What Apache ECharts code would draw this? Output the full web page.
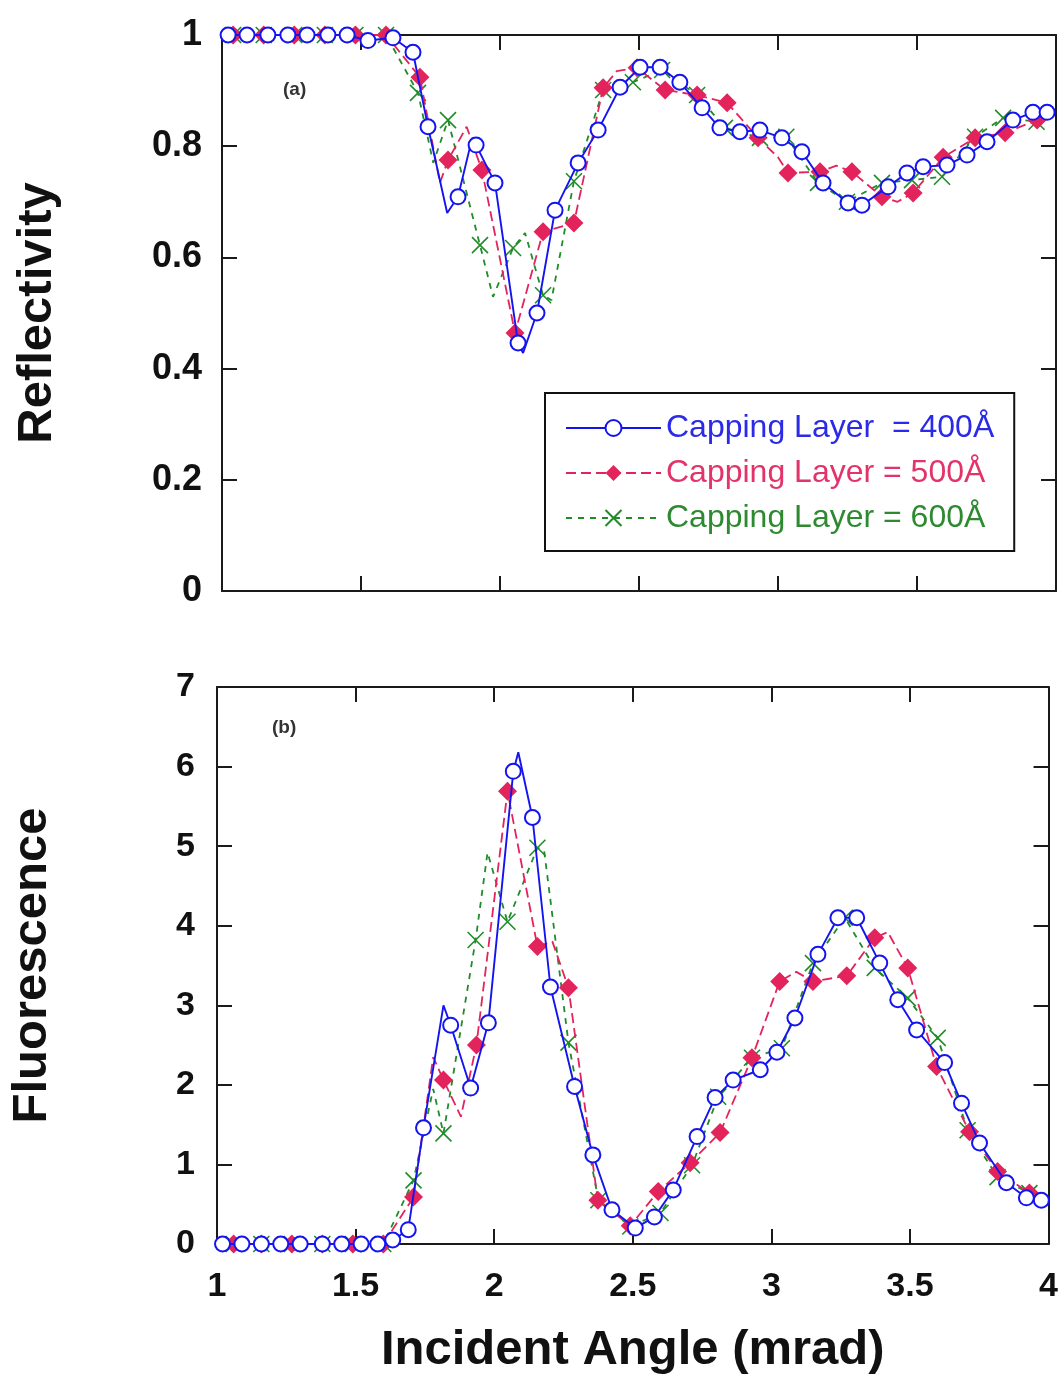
<!DOCTYPE html>
<html><head><meta charset="utf-8">
<script src="https://cdn.jsdelivr.net/npm/echarts@6/dist/echarts.min.js"></script>
<style>html,body{margin:0;padding:0;background:#fff}#c{width:1061px;height:1376px}</style>
</head><body><div id="c"></div>
<script>
const seriesNames = ['Capping Layer  = 400Å', 'Capping Layer = 500Å', 'Capping Layer = 600Å'];
const xTicks = [1, 1.5, 2, 2.5, 3, 3.5, 4];

// ---- (a) Reflectivity: marker points ----
const r400X = [1.022,1.09,1.165,1.237,1.306,1.381,1.45,1.525,1.615,1.687,1.741,1.849,1.914,1.982,2.065,2.133,2.198,2.281,2.353,2.432,2.504,2.576,2.647,2.727,2.791,2.863,2.935,3.014,3.086,3.162,3.252,3.302,3.396,3.464,3.522,3.608,3.68,3.752,3.845,3.917,3.968];
const r400Y = [1,1,1,1,1,1,1,0.99,0.995,0.969,0.835,0.709,0.802,0.734,0.446,0.50,0.685,0.77,0.829,0.906,0.942,0.942,0.915,0.869,0.833,0.826,0.829,0.815,0.790,0.734,0.698,0.694,0.727,0.752,0.763,0.766,0.784,0.808,0.847,0.861,0.861];
const r400LineX = [1.81, 1.90, 2.083];
const r400LineY = [0.68, 0.815, 0.428];

const r500X = [1.04,1.15,1.26,1.37,1.48,1.59,1.712,1.813,1.935,2.054,2.155,2.266,2.371,2.493,2.594,2.709,2.817,2.928,3.036,3.151,3.266,3.374,3.486,3.594,3.709,3.817,3.932];
const r500Y = [1,1,1,1,1,1,0.924,0.775,0.757,0.464,0.646,0.662,0.905,0.941,0.901,0.892,0.878,0.815,0.752,0.754,0.754,0.709,0.716,0.78,0.815,0.824,0.847];
const r500LineX = [1.784, 1.88, 2.42, 3.0, 3.21, 3.43];
const r500LineY = [0.734, 0.835, 0.935, 0.78, 0.765, 0.70];

const r600X = [1.04,1.15,1.26,1.37,1.48,1.59,1.705,1.813,1.928,2.047,2.155,2.266,2.371,2.478,2.583,2.709,2.809,2.935,3.03,3.144,3.248,3.374,3.482,3.59,3.709,3.81,3.93];
const r600Y = [1,1,1,1,1,1,0.896,0.847,0.622,0.617,0.532,0.737,0.901,0.915,0.937,0.892,0.833,0.815,0.817,0.734,0.70,0.734,0.739,0.745,0.817,0.851,0.844];
const r600LineX = [1.76, 1.975, 2.09, 2.185];
const r600LineY = [0.77, 0.529, 0.644, 0.523];

// ---- (b) Fluorescence: marker points ----
const f400X = [1.02,1.09,1.16,1.23,1.30,1.38,1.45,1.52,1.58,1.634,1.69,1.745,1.843,1.915,1.979,2.069,2.138,2.203,2.29,2.356,2.425,2.509,2.578,2.646,2.732,2.797,2.862,2.96,3.02,3.085,3.168,3.24,3.308,3.391,3.456,3.524,3.625,3.686,3.751,3.848,3.92,3.974];
const f400Y = [0,0,0,0,0,0,0,0,0,0.05,0.18,1.46,2.75,1.96,2.78,5.94,5.36,3.23,1.98,1.12,0.43,0.2,0.34,0.68,1.35,1.84,2.06,2.19,2.41,2.84,3.64,4.10,4.10,3.53,3.07,2.69,2.28,1.77,1.27,0.77,0.58,0.55];
const f400LineX = [1.817, 2.087];
const f400LineY = [3.0, 6.18];

const f500X = [1.06,1.16,1.27,1.38,1.49,1.60,1.709,1.817,1.936,2.048,2.156,2.268,2.374,2.491,2.592,2.707,2.815,2.93,3.03,3.15,3.272,3.373,3.492,3.596,3.715,3.816,3.931];
const f500Y = [0,0,0,0,0,0,0.59,2.06,2.5,5.69,3.74,3.22,0.55,0.23,0.66,1.02,1.40,2.34,3.30,3.30,3.37,3.85,3.47,2.23,1.41,0.91,0.64];
const f500LineX = [1.78, 1.88, 2.21, 3.09, 3.42];
const f500LineY = [2.35, 1.6, 3.8, 3.42, 3.92];

const f600X = [1.06,1.16,1.27,1.38,1.49,1.60,1.709,1.817,1.933,2.048,2.156,2.268,2.376,2.491,2.60,2.714,2.808,2.93,3.038,3.15,3.265,3.373,3.492,3.60,3.708,3.816,3.931];
const f600Y = [0,0,0,0,0,0,0.8,1.39,3.82,4.05,4.98,2.53,0.55,0.22,0.39,0.99,1.85,2.34,2.46,3.53,4.10,3.47,3.09,2.59,1.43,0.84,0.64];
const f600LineX = [1.78, 1.976, 2.18];
const f600LineY = [1.95, 4.92, 4.95];

function build(mx, my, lx, ly) {
  const pts = mx.map((x, i) => ({ value: [x, my[i]] }));
  lx.forEach((x, i) => pts.push({ value: [x, ly[i]], symbol: 'none' }));
  pts.sort((a, b) => a.value[0] - b.value[0]);
  return pts;
}

const BLUE = '#1414f0', RED = '#e3245c', GREEN = '#1f8c28';
const XPATH = 'path://M0,0L10,10M10,0L0,10';
const FONT = 'Liberation Sans';

function styleFor(k) {
  if (k === 0) return { color: BLUE, symbol: 'emptyCircle', symbolSize: 15,
    lineStyle: { width: 1.9, type: 'solid', color: BLUE }, itemStyle: { color: BLUE, borderWidth: 2 } };
  if (k === 1) return { color: RED, symbol: 'diamond', symbolSize: 19,
    lineStyle: { width: 1.8, type: [10, 5], color: RED }, itemStyle: { color: RED } };
  return { color: GREEN, symbol: XPATH, symbolSize: 16,
    lineStyle: { width: 1.8, type: [6, 6], color: GREEN }, itemStyle: { color: GREEN, borderColor: GREEN, borderWidth: 1.6 } };
}

const sets = [
  [[r400X, r400Y, r400LineX, r400LineY], [r500X, r500Y, r500LineX, r500LineY], [r600X, r600Y, r600LineX, r600LineY]],
  [[f400X, f400Y, f400LineX, f400LineY], [f500X, f500Y, f500LineX, f500LineY], [f600X, f600Y, f600LineX, f600LineY]]
];

const series = [];
[0, 1].forEach(g => {
  [2, 1, 0].forEach(k => {
    const d = sets[g][k];
    series.push(Object.assign({
      type: 'line', name: seriesNames[k], xAxisIndex: g * 2, yAxisIndex: g * 2,
      data: build(d[0], d[1], d[2], d[3]), clip: false, showAllSymbol: true, z: 3 + (2 - k)
    }, styleFor(k)));
  });
});

const axisLine = { show: true, onZero: false, lineStyle: { color: '#1a1a1a', width: 2 } };
const tick = { show: true, inside: true, length: 15, lineStyle: { color: '#1a1a1a', width: 2 } };
const lab = { fontFamily: FONT, fontWeight: 'bold', fontSize: 34, color: '#111' };
const nameStyle = { fontFamily: FONT, fontWeight: 'bold', fontSize: 49, color: '#111' };

function xAx(grid, pos, showLabel) {
  return { type: 'value', gridIndex: grid, position: pos, min: 1, max: 4, interval: 0.5,
    axisLine, axisTick: tick, splitLine: { show: false },
    axisLabel: showLabel ? Object.assign({ margin: 26 }, lab) : { show: false } };
}

const option = {
  animation: false,
  backgroundColor: '#fff',
  grid: [
    { left: 222, top: 35, width: 834, height: 556 },
    { left: 216, top: 687, width: 833, height: 557 }
  ],
  xAxis: [
    xAx(0, 'bottom', false), xAx(0, 'top', false),
    Object.assign(xAx(1, 'bottom', true), { name: 'Incident Angle (mrad)', nameLocation: 'middle', nameGap: 82,
      nameTextStyle: nameStyle }),
    xAx(1, 'top', false)
  ],
  yAxis: [
    { type: 'value', gridIndex: 0, position: 'left', min: 0, max: 1, interval: 0.2,
      axisLine, axisTick: tick, splitLine: { show: false },
      axisLabel: Object.assign({}, lab, { margin: 20, fontSize: 36 }),
      name: 'Reflectivity', nameLocation: 'middle', nameRotate: 90, nameGap: 160,
      nameTextStyle: nameStyle },
    { type: 'value', gridIndex: 0, position: 'right', min: 0, max: 1, interval: 0.2,
      axisLine, axisTick: tick, splitLine: { show: false }, axisLabel: { show: false } },
    { type: 'value', gridIndex: 1, position: 'left', min: 0, max: 7, interval: 1,
      axisLine, axisTick: tick, splitLine: { show: false },
      axisLabel: Object.assign({ margin: 22 }, lab),
      name: 'Fluorescence', nameLocation: 'middle', nameRotate: 90, nameGap: 160,
      nameTextStyle: nameStyle },
    { type: 'value', gridIndex: 1, position: 'right', min: 0, max: 7, interval: 1,
      axisLine, axisTick: tick, splitLine: { show: false }, axisLabel: { show: false } }
  ],
  legend: {
    left: 545, top: 393, orient: 'vertical',
    borderColor: '#111', borderWidth: 2, padding: [19, 20, 17, 20],
    itemGap: 13, itemWidth: 95, itemHeight: 20,
    textStyle: { fontFamily: FONT, fontSize: 32, lineHeight: 32 },
    data: [
      { name: seriesNames[0], textStyle: { color: '#2a2ae8' } },
      { name: seriesNames[1], textStyle: { color: '#e2336a' } },
      { name: seriesNames[2], textStyle: { color: '#2e8a30' } }
    ]
  },
  graphic: [
    { type: 'text', left: 283, top: 80, style: { text: '(a)', fontFamily: FONT, fontWeight: 'bold', fontSize: 19, fill: '#333' } },
    { type: 'text', left: 272, top: 718, style: { text: '(b)', fontFamily: FONT, fontWeight: 'bold', fontSize: 19, fill: '#333' } }
  ],
  series
};

const chart = echarts.init(document.getElementById('c'), null, { renderer: 'canvas' });
chart.setOption(option);
</script>
</body></html>
